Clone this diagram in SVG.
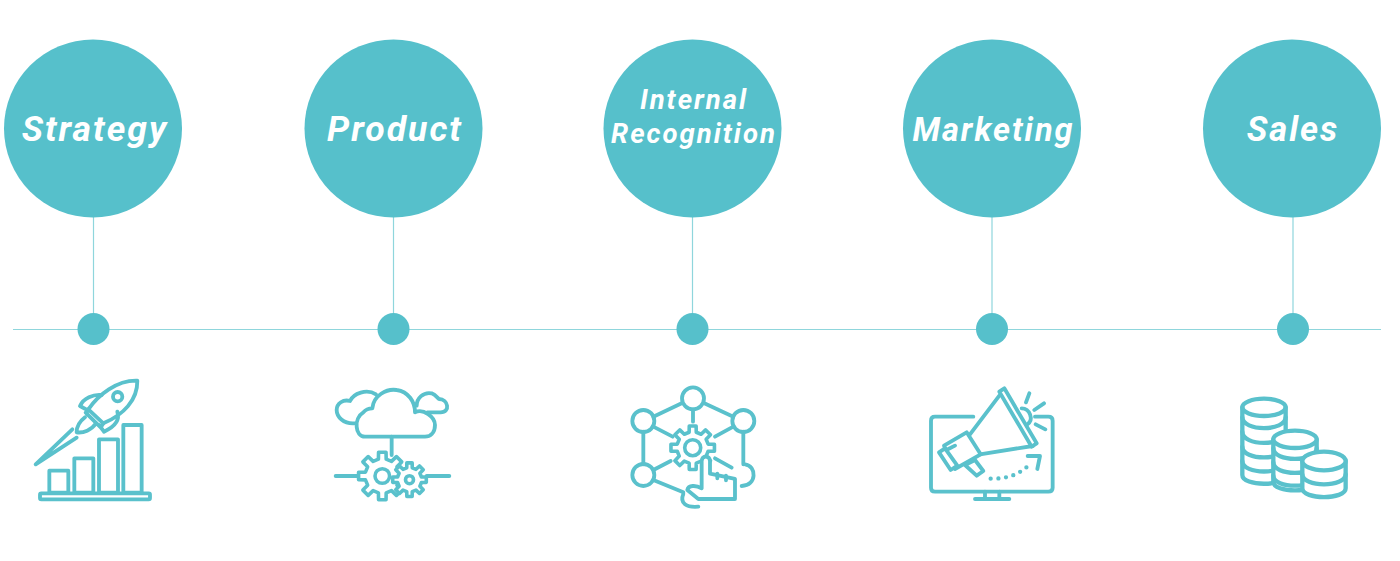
<svg xmlns="http://www.w3.org/2000/svg" width="1400" height="561" viewBox="0 0 1400 561">
<style>
.big{fill:#56c0cb}
.dot{fill:#56c0cb}
.ln{stroke:#8fd6dc;stroke-width:1.200;fill:none}
.lb{fill:#fff;font-family:Roboto,"Liberation Sans",sans-serif;font-weight:700;font-style:italic;text-anchor:middle;letter-spacing:2px}
.ic{fill:none;stroke:#5ac1cc;stroke-width:11.500;stroke-linecap:round;stroke-linejoin:round}
.w{fill:#fff}
.gear{fill:#fff;stroke:#5ac1cc;stroke-width:3.600px;stroke-linejoin:round;vector-effect:non-scaling-stroke}
.hole{fill:#fff;stroke:#5ac1cc;stroke-width:3.600}
</style>
<defs>
<polygon id="gear" class="gear" points="98.8,-15.6 98.8,15.6 70.2,16.2 61.1,38.2 80.9,58.8 58.8,80.9 38.2,61.1 16.2,70.2 15.6,98.8 -15.6,98.8 -16.2,70.2 -38.2,61.1 -58.8,80.9 -80.9,58.8 -61.1,38.2 -70.2,16.2 -98.8,15.6 -98.8,-15.6 -70.2,-16.2 -61.1,-38.2 -80.9,-58.8 -58.8,-80.9 -38.2,-61.1 -16.2,-70.2 -15.6,-98.8 15.6,-98.8 16.2,-70.2 38.2,-61.1 58.8,-80.9 80.9,-58.8 61.1,-38.2 70.2,-16.2"/>
</defs>
<rect width="1400" height="561" fill="#fff"/>
<g id="connectors">
<path class="ln" d="M13 329.500H1381M93.500 217V315M393.500 217V315M692.500 217V315M992 217V315M1293 217V315"/>
</g>
<g id="node-strategy">
<circle class="big" cx="93" cy="128.500" r="89"/>
<text class="lb" x="95" y="141" font-size="35.500">Strategy</text>
<circle class="dot" cx="93.500" cy="329" r="16"/>
<g class="ic" transform="translate(20 370) scale(.3333)">
<rect x="60" y="370" width="330" height="18" rx="4"/>
<rect x="88" y="302" width="57" height="66"/>
<rect x="163" y="265" width="57" height="103"/>
<rect x="237" y="208" width="57" height="160"/>
<rect x="310" y="165" width="55" height="203"/>
<path d="M157 178 47 283 170 203"/>
<path d="M205 118C235 75 290 30 352 32 353 90 310 135 250 160"/>
<path d="M205 118 197 128 242 172 250 160ZM180 108C190 85 220 72 245 75M180 108 205 122M252 185C285 170 300 150 292 125M252 185 237 165M195 142C178 155 170 170 170 187 190 190 215 180 228 160"/>
<circle cx="293" cy="80" r="14"/>
</g>
</g>
<g id="node-product">
<circle class="big" cx="393.500" cy="128.500" r="89"/>
<text class="lb" x="395" y="141" font-size="35.500">Product</text>
<circle class="dot" cx="393.500" cy="329" r="16"/>
<g class="ic" transform="translate(320 375) scale(.3333)">
<path d="M47 303H120M320 303H388M215 185V240"/>
<path d="M105 145C70 148 50 125 50 105 50 85 70 72 90 78 100 55 140 40 168 58"/>
<path d="M290 92C290 70 310 50 335 55 347 60 352 68 357 72 385 72 392 112 362 112H322"/>
<path d="M135 185C105 185 100 130 130 112 138 102 150 100 157 100 160 62 200 40 230 45 265 50 285 80 285 112 310 100 345 125 345 150 345 175 330 185 315 185Z"/>
</g>
<use href="#gear" transform="translate(382.300 476) scale(.24)"/>
<circle class="hole" cx="382.300" cy="476" r="7.300"/>
<use href="#gear" transform="translate(409.500 479.700) scale(.17)"/>
<circle class="hole" cx="409.500" cy="479.700" r="4"/>
</g>
<g id="node-internal-recognition">
<circle class="big" cx="692.500" cy="128.500" r="89"/>
<text class="lb" font-size="27.500"><tspan x="694" y="109">Internal</tspan><tspan x="694" y="143">Recognition</tspan></text>
<circle class="dot" cx="692.500" cy="329" r="16"/>
<g class="ic" transform="translate(620 375) scale(.3333)">
<circle cx="219" cy="70" r="33"/>
<circle cx="70" cy="138" r="33"/>
<circle cx="370" cy="138" r="33"/>
<circle cx="70" cy="300" r="33"/>
<path d="M375 268C410 272 412 332 365 333M190 357C178 385 200 398 235 395"/>
<path d="M185 85 100 125M253 85 340 125M70 170V268M370 170V268M100 155 158 185M340 155 285 185M219 103V140M100 285 152 258M285 250 335 278M100 315 190 352"/>
</g>
<use href="#gear" transform="translate(692.700 447.700) scale(.22)"/>
<circle class="hole" cx="692.700" cy="447.700" r="8"/>
<g class="ic" transform="translate(620 375) scale(.3333)">
<path class="w" d="M245 332V258C245 240 270 240 270 258V296L345 312V372H235L202 345C205 330 228 330 245 340Z"/>
<path d="M292 296V310M318 302V316"/>
</g>
</g>
<g id="node-marketing">
<circle class="big" cx="992" cy="128.500" r="89"/>
<text class="lb" x="993.500" y="141" font-size="32.500">Marketing</text>
<circle class="dot" cx="992" cy="329" r="16"/>
<g class="ic" transform="translate(920 375) scale(.3333)">
<path d="M160 125H45Q33 125 33 137V338Q33 350 45 350H385Q398 350 398 338V137Q398 125 385 125H345"/>
<path d="M195 350V372M238 350V372M165 372H268"/>
<path d="M305 100C330 100 342 135 322 148"/>
<path d="M150 178 238 62M180 238 338 213"/>
<path class="w" d="M238 50 253 40 350 205 335 215Z"/>
<path class="w" d="M72 212 140 172 182 238 105 282Z"/>
<path class="w" d="M57 232 75 220 112 272 92 285Z"/>
<path class="w" d="M135 270 165 255 190 288 170 302Z"/>
<path d="M328 55 318 82M372 85 343 105M347 148 376 163M85 222 105 212"/>
<path d="M212 311C260 312 300 300 335 262" stroke-dasharray="0 23" stroke-width="13"/>
<path d="M323 243 360 243 352 282"/>
</g>
</g>
<g id="node-sales">
<circle class="big" cx="1292" cy="128.500" r="89"/>
<text class="lb" x="1293" y="141" font-size="34.500">Sales</text>
<circle class="dot" cx="1293" cy="329" r="16"/>
<g class="ic" transform="translate(1225 385) scale(.3333)" style="stroke-width:13">
<path d="M52 67V270C52 305 182 305 182 270V67"/>
<ellipse cx="117" cy="67" rx="65" ry="26"/>
<path d="M52 97C52 140 182 140 182 97M52 140C52 185 182 185 182 140M52 185C52 228 182 228 182 185M52 228C52 270 182 270 182 228"/>
<path class="w" d="M145 163V290C145 325 275 325 275 290V163Z"/>
<ellipse class="w" cx="210" cy="163" rx="65" ry="26"/>
<path d="M145 190C145 232 275 232 275 190M145 232C145 274 275 274 275 232M145 272C145 312 275 312 275 272"/>
<path class="w" d="M232 228V310C232 345 362 345 362 310V228Z"/>
<ellipse class="w" cx="297" cy="228" rx="65" ry="28"/>
<path d="M232 268C232 308 362 308 362 268"/>
</g>
</g>
</svg>
